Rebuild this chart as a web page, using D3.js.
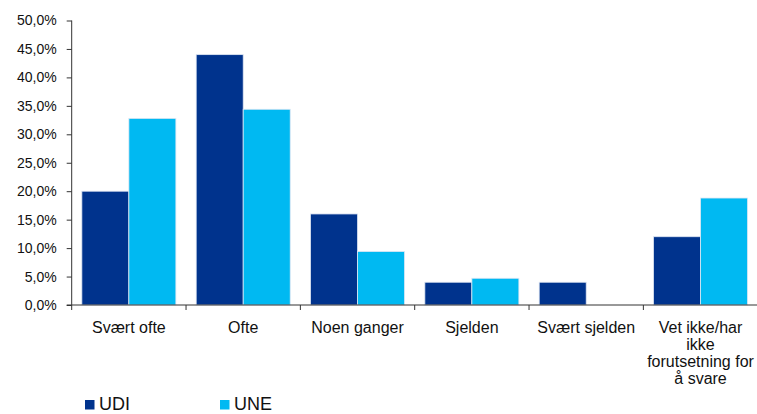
<!DOCTYPE html>
<html>
<head>
<meta charset="utf-8">
<script src="https://d3js.org/d3.v7.min.js"></script>
<style>
  body { margin: 0; background: #fff; }
  .tick-label { font: 14px "Liberation Sans", Arial, sans-serif; fill: #111; }
  .cat-label { font: 16px "Liberation Sans", Arial, sans-serif; fill: #111; }
  .legend-label { font: 18px "Liberation Sans", Arial, sans-serif; fill: #111; }
</style>
</head>
<body>
<svg id="chart" width="757" height="414"></svg>
<script>
// data
var categories = ["Svært ofte", "Ofte", "Noen ganger", "Sjelden", "Svært sjelden",
                  "Vet ikke/har ikke forutsetning for å svare"];
var seriesNames = ["UDI", "UNE"];
var udiValues = [20.0, 44.0, 16.0, 4.0, 4.0, 12.0];
var uneValues = [32.8, 34.4, 9.4, 4.7, 0, 18.8];
var yTicks = [0, 5, 10, 15, 20, 25, 30, 35, 40, 45, 50];

var colors = { UDI: "#00338d", UNE: "#00b9f2" };

var svg = d3.select("#chart");

var x0 = d3.scaleBand().domain(categories).range([71.7, 757.7]).paddingInner(0).paddingOuter(0);
var x1 = d3.scaleBand().domain(seriesNames).range([0, x0.bandwidth()]).paddingInner(0).paddingOuter(0.216);
var y = d3.scaleLinear().domain([0, 50]).range([305, 20.5]);

var rows = categories.map(function(c, i) {
  return { cat: c, values: [{ key: "UDI", v: udiValues[i] }, { key: "UNE", v: uneValues[i] }] };
});

// bars
var groups = svg.selectAll(".grp")
  .data(rows)
  .enter().append("g")
  .attr("class", "grp")
  .attr("transform", function(d) { return "translate(" + x0(d.cat) + ",0)"; });

groups.selectAll("rect")
  .data(function(d) { return d.values.filter(function(e) { return e.v > 0; }); })
  .enter().append("rect")
  .attr("x", function(d) { return x1(d.key); })
  .attr("y", function(d) { return y(d.v); })
  .attr("width", x1.bandwidth())
  .attr("height", function(d) { return y(0) - y(d.v); })
  .attr("fill", function(d) { return colors[d.key]; })
  .attr("stroke", "#dfe7f3")
  .attr("stroke-width", 0.8);

// y axis
var yAxis = d3.axisLeft(y)
  .tickValues(yTicks)
  .tickSize(5)
  .tickPadding(10)
  .tickFormat(function(d) { return d.toFixed(1).replace(".", ",") + "%"; });

var gy = svg.append("g")
  .attr("transform", "translate(71.7,0)")
  .call(yAxis);
gy.select(".domain").attr("stroke", "#333").attr("d", "M0," + y(50) + "V" + y(0));
gy.selectAll(".tick line").attr("stroke", "#333");
gy.selectAll(".tick text").attr("class", "tick-label").attr("font-size", null).attr("font-family", null);

// x axis
var xAxis = d3.axisBottom(x0).tickSize(0).tickFormat("");
var gx = svg.append("g")
  .attr("transform", "translate(0,305)")
  .call(xAxis);
gx.select(".domain").attr("stroke", "#333").attr("d", "M66.7,0H757.7");
gx.selectAll(".tick").remove();

// category separators
var seps = categories.map(function(c) { return x0(c); }).concat([x0.range()[1]]);
gx.selectAll(".sep")
  .data(seps)
  .enter().append("line")
  .attr("class", "sep")
  .attr("x1", function(d) { return d; })
  .attr("x2", function(d) { return d; })
  .attr("y1", 0)
  .attr("y2", 5)
  .attr("stroke", "#333");

// category labels, wrapped to the band width
var labels = svg.selectAll(".cat-label")
  .data(categories)
  .enter().append("text")
  .attr("class", "cat-label")
  .attr("text-anchor", "middle")
  .attr("x", function(d) { return x0(d) + x0.bandwidth() / 2; })
  .attr("y", 332.5);

labels.each(function(d) {
  var el = d3.select(this);
  var cx = x0(d) + x0.bandwidth() / 2;
  var words = d.split(" ");
  var lines = [];
  var line = [];
  var tspan = el.append("tspan").attr("x", cx);
  words.forEach(function(w) {
    line.push(w);
    tspan.text(line.join(" "));
    if (tspan.node().getComputedTextLength() > x0.bandwidth() - 2 && line.length > 1) {
      line.pop();
      lines.push(line.join(" "));
      line = [w];
    }
  });
  lines.push(line.join(" "));
  tspan.remove();
  lines.forEach(function(t, i) {
    el.append("tspan").attr("x", cx).attr("dy", i === 0 ? 0 : 17).text(t);
  });
});

// legend
var legendX = [85, 220];
var legend = svg.selectAll(".legend")
  .data(seriesNames)
  .enter().append("g")
  .attr("class", "legend")
  .attr("transform", function(d, i) { return "translate(" + legendX[i] + ",400)"; });

legend.append("rect")
  .attr("width", 9.5)
  .attr("height", 9.5)
  .attr("fill", function(d) { return colors[d]; });

legend.append("text")
  .attr("class", "legend-label")
  .attr("x", 14)
  .attr("y", 9.8)
  .text(function(d) { return d; });
</script>
</body>
</html>
